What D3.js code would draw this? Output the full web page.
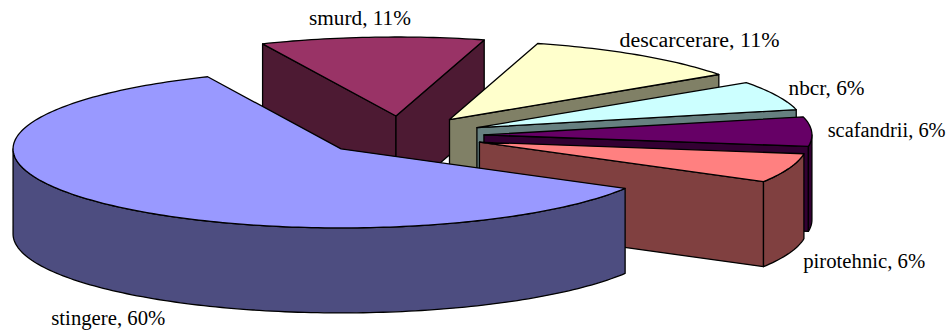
<!DOCTYPE html>
<html>
<head>
<meta charset="utf-8">
<script src="https://cdn.jsdelivr.net/npm/d3@7/dist/d3.min.js"></script>
<style>
  html, body { margin: 0; padding: 0; background: #fff; }
  svg { display: block; }
  text { font-family: "Liberation Serif", "Times New Roman", serif; font-size: 20.5px; fill: #000; }
</style>
</head>
<body>
<svg id="chart" width="950" height="333"></svg>
<script>
// Intervention types and their shares, in percent
const categories = ["stingere", "smurd", "descarcerare", "nbcr", "scafandrii", "pirotehnic"];
const shares = [60, 11, 11, 6, 6, 6];
const topColors = ["#9999ff", "#993366", "#ffffcc", "#ccffff", "#660066", "#ff8080"];
const sideColors = ["#4d4d80", "#4d1a33", "#808066", "#668080", "#330033", "#804040"];

// Label offsets from each slice's rim midpoint, and the width each label is set to
const labelNudgeX = [-46, -63, -20, 12, 16, 14];
const labelNudgeY = [123, -12, -8, -1, 5, 100];
const labelWidths = [114, 102, 160, 76, 118, 122];

// Tilted-disc layout
const centerX = 402, centerY = 135.7, radiusX = 328, radiusY = 79, depth = 85;
const explode = 0.25;
const firstAngle = 120 * Math.PI / 180;

const svg = d3.select("#chart");
const x = d3.scaleLinear().domain([-1, 1]).range([centerX - radiusX, centerX + radiusX]);
const y = d3.scaleLinear().domain([-1, 1]).range([centerY + radiusY, centerY - radiusY]);

const pie = d3.pie().sort(null).startAngle(firstAngle).endAngle(firstAngle + 2 * Math.PI);
const arcs = pie(shares);

// Project a point on the unit disc, pushed out along the slice's mid-angle
function project(slice, angle, r, drop) {
  const mid = (slice.startAngle + slice.endAngle) / 2;
  const ux = explode * Math.sin(mid) + r * Math.sin(angle);
  const uy = explode * Math.cos(mid) + r * Math.cos(angle);
  return [x(ux), y(uy) + drop];
}

const line = d3.line();
const rimAngles = (a0, a1) => {
  const n = Math.max(2, Math.ceil((a1 - a0) / 0.02));
  return d3.range(n + 1).map(i => a0 + (a1 - a0) * i / n);
};

function wallPath(s, angle) {
  return line([project(s, angle, 0, 0), project(s, angle, 1, 0),
               project(s, angle, 1, depth), project(s, angle, 0, depth)]) + "Z";
}

// Part of the rim that faces the viewer: the lower half of the ellipse
function frontRim(s) {
  const spans = [];
  for (const k of [0, 1, 2]) {
    const lo = Math.PI / 2 + 2 * Math.PI * k, hi = 3 * Math.PI / 2 + 2 * Math.PI * k;
    const a0 = Math.max(s.startAngle, lo), a1 = Math.min(s.endAngle, hi);
    if (a1 > a0) spans.push([a0, a1]);
  }
  return spans;
}

// Painted back to front: the largest slice sits nearest the viewer
const paintOrder = arcs.slice(1).concat(arcs.slice(0, 1));

const strokeWidth = 1.3;
const slices = svg.selectAll("g.slice").data(paintOrder).join("g").attr("class", "slice")
  .attr("stroke", "#000").attr("stroke-width", strokeWidth).attr("stroke-linejoin", "round");

slices.each(function (s) {
  const g = d3.select(this);
  const side = sideColors[s.index];
  // Radial walls that turn towards the viewer
  if (Math.sin(s.startAngle) < 0) g.append("path").attr("d", wallPath(s, s.startAngle)).attr("fill", side);
  if (Math.sin(s.endAngle) > 0) g.append("path").attr("d", wallPath(s, s.endAngle)).attr("fill", side);
  // Curved outer wall
  frontRim(s).forEach(([a0, a1]) => {
    const angles = rimAngles(a0, a1);
    const pts = angles.map(a => project(s, a, 1, 0))
      .concat(angles.slice().reverse().map(a => project(s, a, 1, depth)));
    g.append("path").attr("d", line(pts) + "Z").attr("fill", side);
  });
  // Top face
  const top = [project(s, s.startAngle, 0, 0)]
    .concat(rimAngles(s.startAngle, s.endAngle).map(a => project(s, a, 1, 0)));
  g.append("path").attr("d", line(top) + "Z").attr("fill", topColors[s.index]);
});

svg.selectAll("text.label").data(arcs).join("text").attr("class", "label")
  .attr("x", s => project(s, (s.startAngle + s.endAngle) / 2, 1, 0)[0] + labelNudgeX[s.index])
  .attr("y", s => project(s, (s.startAngle + s.endAngle) / 2, 1, 0)[1] + labelNudgeY[s.index])
  .attr("textLength", s => labelWidths[s.index])
  .attr("lengthAdjust", "spacingAndGlyphs")
  .text(s => `${categories[s.index]}, ${s.value}%`);
</script>
</body>
</html>
